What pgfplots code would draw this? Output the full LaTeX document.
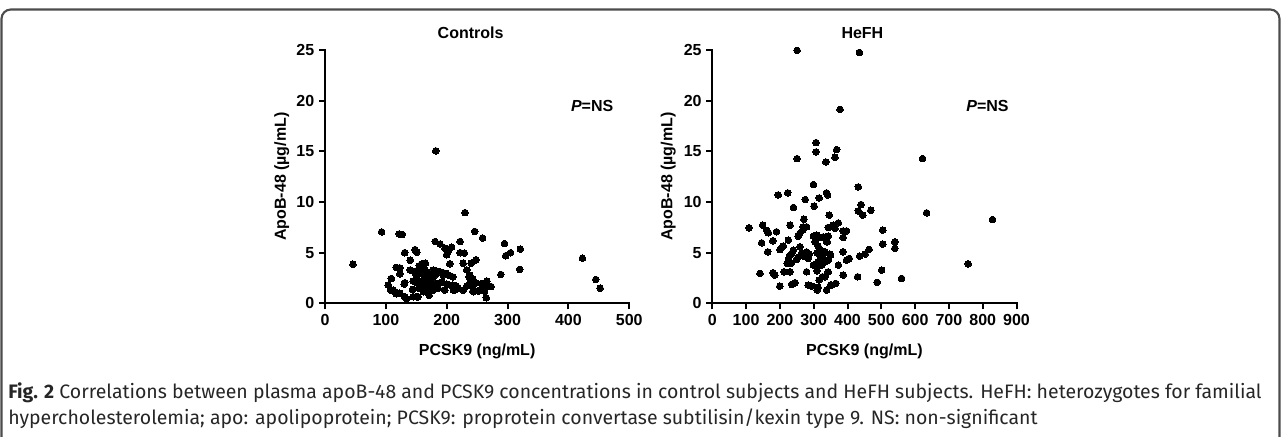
\documentclass[border=0pt]{standalone}
\usepackage{pgfplots}
\pgfplotsset{compat=1.18}
\usepackage{fontspec}
\setmainfont{Liberation Sans}
\newfontfamily\capfont{Fira Sans}

\pgfplotstableread{
x y
46 3.85
93 7.05
122 6.85
127 6.8
131 5.0
148 5.3
151 5.05
140 4.25
117 3.55
123 3.5
109 2.45
104 1.8
112 1.3
117 0.95
131 0.65
134 0.45
150 0.65
123 2.9
130 1.9
145 2.2
150 3.2
155 3.7
159 3.9
165 3.95
157 3.0
163 2.8
168 2.9
152 2.0
157 1.85
165 2.0
170 2.2
176 2.4
154 1.5
163 1.4
171 1.25
171 0.8
179 3.0
183 3.2
176 1.9
184 1.6
189 2.0
181 6.1
189 5.85
197 5.45
203 5.2
200 4.8
208 5.55
222 6.1
230 8.95
222 5.0
229 4.95
205 3.9
195 3.0
203 2.8
210 2.6
200 1.9
208 1.7
216 1.7
213 1.3
227 1.3
233 1.7
238 2.0
246 7.1
259 6.45
248 4.3
240 3.95
237 2.6
243 2.4
243 1.7
248 2.0
243 1.2
252 1.2
257 1.4
262 1.2
265 0.55
266 2.2
273 1.65
233 3.3
289 2.85
295 5.9
297 4.7
305 5.0
321 5.35
320 3.35
423 4.45
445 2.35
452 1.5
182 15.05
227 3.95
108 1.3
115 1.15
123 0.99
145 0.65
153 0.65
131 2.03
144 1.38
140 3.29
148 2.96
156 3.29
164 3.29
151 2.47
159 2.13
167 2.3
156 1.64
167 1.64
162 1.15
170 0.99
178 3.29
181 2.79
189 3.12
194 2.79
199 2.96
172 2.3
183 1.97
192 2.13
210 1.8
178 1.31
186 1.48
197 1.31
211 1.31
219 1.48
244 1.15
255 1.31
241 2.13
238 2.79
258 1.97
264 1.64
}\controls

\pgfplotstableread{
x y
251 24.96
435 24.76
378 19.14
307 15.86
307 14.94
368 15.17
251 14.28
336 13.95
363 14.41
622 14.28
634 8.93
829 8.27
757 3.9
560 2.46
109 7.45
149 7.7
161 7.2
166 6.96
190 7.06
146 5.97
179 6.17
164 5.08
200 5.3
205 5.5
210 5.65
195 10.7
223 10.9
240 9.46
230 7.71
225 6.24
254 6.63
259 6.9
269 7.29
279 7.55
271 8.3
299 11.72
275 10.24
316 10.4
338 10.9
341 10.7
301 9.59
346 8.7
343 7.49
358 7.71
373 7.94
363 7.39
387 7.15
397 7.15
387 6.5
432 11.49
440 9.75
432 9.12
445 8.7
469 9.19
504 7.22
504 5.84
540 6.07
540 5.42
501 3.28
488 2.07
430 2.62
464 5.32
452 4.86
436 4.66
387 5.08
397 4.27
405 4.43
373 3.77
387 2.79
348 4.86
338 6.07
343 6.63
323 6.5
309 6.73
299 6.63
304 6.07
310 4.98
333 5.08
318 4.27
328 4.43
343 4.27
313 3.94
323 3.77
310 3.21
343 3.11
299 3.77
326 2.62
316 2.3
313 1.58
338 1.31
350 1.8
365 1.97
310 1.31
284 1.8
294 1.7
279 3.11
279 5.08
287 4.86
284 4.43
259 5.58
264 4.93
254 4.53
269 4.66
249 4.33
240 5.25
235 4.93
228 4.66
225 4.27
233 3.94
222 3.94
212 3.11
230 3.11
180 3.02
185 2.79
141 2.95
200 1.7
235 1.87
245 2.03
328 6.56
313 5.65
340 6.07
309 6.4
318 5.25
328 5.08
323 4.6
313 4.1
309 3.6
333 4.1
350 4.76
274 4.93
269 7.55
333 2.62
353 1.8
}\hefh

\pgfplotsset{
  myaxis/.style={
    scale only axis,
    width=228.2pt, height=190pt,
    anchor=south west,
    axis lines*=left,
    axis line style={line width=1.5pt, line cap=rect},
    tick style={line width=1.5pt, black},
    tick align=outside,
    major tick length=4.5pt,
    ymin=0, ymax=25, ytick={0,5,...,25},
    tick label style={font=\fontsize{12}{14}\selectfont\bfseries},
    /pgf/number format/assume math mode=true,
    label style={font=\fontsize{12}{14}\selectfont\bfseries},
    ylabel={ApoB-48 (µg/mL)},
    xlabel={PCSK9 (ng/mL)},
    clip=false,
  },
  mypts/.style={only marks, mark=*, mark size=2.5pt, black, mark options={fill=black, draw=black, line width=0pt}},
}

\begin{document}
\begin{tikzpicture}[x=0.75pt, y=0.75pt]
\useasboundingbox (0,0) rectangle (1281,436);
\draw[line width=1.6pt, color=black!70, rounded corners=7pt] (1.5,-40) rectangle (1279.5,426.5);

\begin{axis}[myaxis, at={(243.75pt,99.5pt)},
  xmin=0, xmax=500, xtick={0,100,...,500},
  ylabel style={at={(axis description cs:-0.1423,0.5)}, anchor=center},
  xlabel style={at={(axis description cs:0.5,-0.1883)}, anchor=center},
]
\addplot[mypts] table[x=x, y=y] {\controls};
\node[font=\fontsize{12}{14}\selectfont\bfseries] at (axis description cs:0.4785,1.067) {Controls};
\node[font=\fontsize{12}{14}\selectfont\bfseries] at (axis cs:439,19.5) {\textit{P}=NS};
\end{axis}

\begin{axis}[myaxis, at={(534.2pt,99.5pt)},
  xmin=0, xmax=900, xtick={0,100,...,900},
  ylabel style={at={(axis description cs:-0.1446,0.5)}, anchor=center},
  xlabel style={at={(axis description cs:0.5,-0.1883)}, anchor=center},
]
\addplot[mypts] table[x=x, y=y] {\hefh};
\node[font=\fontsize{12}{14}\selectfont\bfseries] at (axis description cs:0.4934,1.067) {HeFH};
\node[font=\fontsize{12}{14}\selectfont\bfseries] at (axis cs:814,19.5) {\textit{P}=NS};
\end{axis}

\node[anchor=west, inner sep=0pt, text=black!85, font=\capfont\fontsize{14.6}{17}\selectfont] at (8,43) {\textbf{Fig. 2} Correlations between plasma apoB-48 and PCSK9 concentrations in control subjects and HeFH subjects. HeFH: heterozygotes for familial};
\node[anchor=west, inner sep=0pt, text=black!85, font=\capfont\fontsize{14.6}{17}\selectfont] at (8,17) {hypercholesterolemia; apo: apolipoprotein; PCSK9: proprotein convertase subtilisin/kexin type 9. NS: non-significant};
\end{tikzpicture}
\end{document}
